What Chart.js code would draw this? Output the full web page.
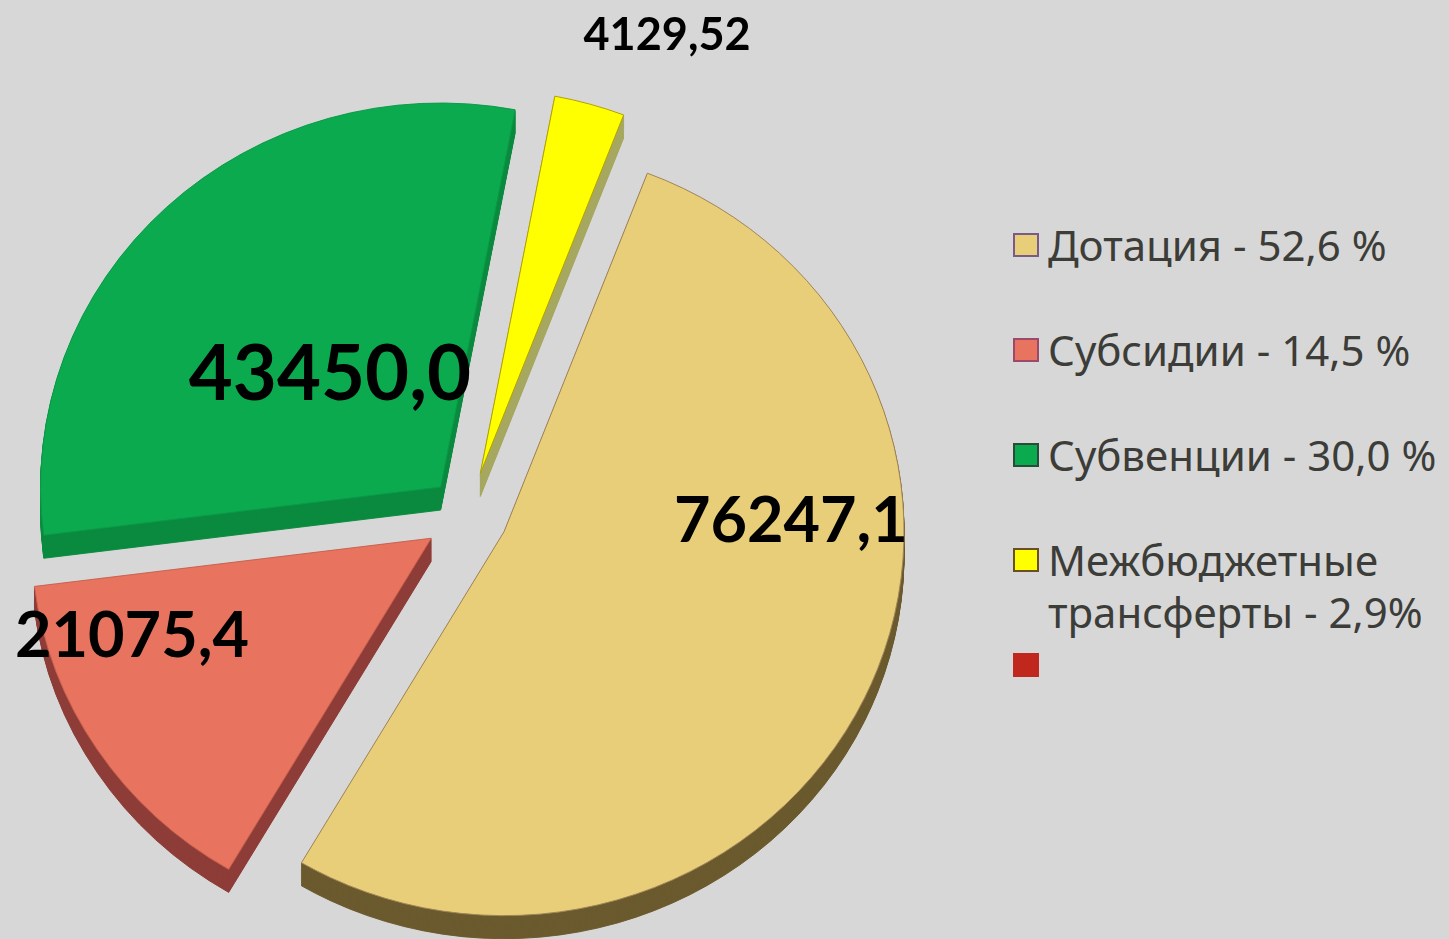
<!DOCTYPE html>
<html lang="ru">
<head>
<meta charset="utf-8">
<title>Безвозмездные поступления</title>
<script src="https://cdn.jsdelivr.net/npm/chart.js@4.4.1/dist/chart.umd.min.js"></script>
<style>
    html, body { margin: 0; padding: 0; background: #d7d7d7; width: 1449px; height: 939px; overflow: hidden; }
    #wrap { position: absolute; left: 0; top: 0; width: 936px; height: 939px; }
    #legend { position: absolute; left: 1013px; top: 219px; font-family: "Noto Sans", sans-serif; font-size: 42px; color: #3c3c38; }
    #legend .item { display: flex; align-items: flex-start; line-height: 52px; margin-bottom: 53px; white-space: pre; }
    #legend .item:nth-child(4) { margin-bottom: 1px; }
    #legend .box { width: 22px; height: 20px; margin: 14px 9px 0 0; border: 2px solid #4a3a4a; flex: none; }
</style>
</head>
<body>
<div id="wrap"><canvas id="pie"></canvas></div>
<div id="legend"></div>
<script>
var categories = ['Дотация', 'Субсидии', 'Субвенции', 'Межбюджетные трансферты', ''];
var values = [76247.1, 21075.4, 43450.0, 4129.52, 0];
var decimals = [1, 1, 1, 2, 0];
var legendTexts = ['Дотация - 52,6 %', 'Субсидии - 14,5 %', 'Субвенции - 30,0 %', 'Межбюджетные\nтрансферты - 2,9%', ''];

var topColors = ['#e8ce78', '#e8735f', '#0caa4f', '#ffff00', '#c0281e'];
var sideColors = ['#6b5a2e', '#8e3c38', '#0a8a3e', '#a6a860', '#801810'];
var boxBorders = ['#7a5a8a', '#9a4a6a', '#2a4a3a', '#6a5020', '#c0281e'];

function fmt(v, d) {
    return v.toFixed(d).replace('.', ',');
}

// legend
var legend = document.getElementById('legend');
for (var i = 0; i < legendTexts.length; i++) {
    var item = document.createElement('div');
    item.className = 'item';
    var box = document.createElement('span');
    box.className = 'box';
    box.style.background = topColors[i];
    box.style.borderColor = boxBorders[i];
    var txt = document.createElement('span');
    txt.textContent = legendTexts[i];
    item.appendChild(box);
    item.appendChild(txt);
    legend.appendChild(item);
}

// exploded slices with a dark side underneath, slightly tilted
var pie3d = {
    id: 'pie3d',
    beforeDatasetsDraw: function (chart, args, opts) {
        var ctx = chart.ctx;
        var arcs = chart.getDatasetMeta(0).data;
        if (!arcs.length) return false;
        var cy = arcs[0].y;
        function shift(arc, i) {
            var p = arc.getProps(['startAngle', 'endAngle'], true);
            var half = (p.startAngle + p.endAngle) / 2;
            return [Math.cos(half) * opts.explode[i], Math.sin(half) * opts.explode[i]];
        }
        ctx.save();
        ctx.translate(0, cy);
        ctx.scale(1, opts.tilt);
        ctx.translate(0, -cy);
        for (var i = 0; i < arcs.length; i++) {
            var arc = arcs[i];
            if (!arc.circumference) continue;
            var s = shift(arc, i);
            var orig = arc.options;
            arc.options = Object.assign({}, orig, { backgroundColor: opts.sideColors[i], borderColor: opts.sideColors[i] });
            for (var k = opts.depth; k >= 1; k--) {
                ctx.save();
                ctx.translate(s[0], s[1] + k);
                arc.draw(ctx);
                ctx.restore();
            }
            arc.options = orig;
        }
        for (var j = 0; j < arcs.length; j++) {
            if (!arcs[j].circumference) continue;
            var t = shift(arcs[j], j);
            ctx.save();
            ctx.translate(t[0], t[1]);
            arcs[j].draw(ctx);
            ctx.restore();
        }
        ctx.restore();
        return false;
    },
    afterDraw: function (chart, args, opts) {
        var ctx = chart.ctx;
        var arcs = chart.getDatasetMeta(0).data;
        ctx.save();
        ctx.fillStyle = '#000';
        ctx.textAlign = 'center';
        ctx.textBaseline = 'alphabetic';
        for (var i = 0; i < arcs.length; i++) {
            var pos = opts.labels[i];
            if (!pos) continue;
            var p = arcs[i].getProps(['x', 'y', 'startAngle', 'endAngle', 'outerRadius'], true);
            var a = p.startAngle + pos.t * (p.endAngle - p.startAngle);
            var x = p.x + Math.cos(a) * pos.r * p.outerRadius;
            var y = p.y + Math.sin(a) * pos.r * p.outerRadius;
            ctx.font = 'bold ' + pos.size + 'px Lato, "Open Sans", sans-serif';
            ctx.fillText(fmt(values[i], decimals[i]), x, y);
        }
        ctx.restore();
    }
};

new Chart(document.getElementById('pie'), {
    type: 'pie',
    data: {
        labels: categories,
        datasets: [{
            data: values,
            backgroundColor: topColors,
            borderColor: ['#a08458', '#c8604e', '#0a9a48', '#b0a000', '#c0281e'],
            borderWidth: [1, 1, 1, 1, 0]
        }]
    },
    options: {
        responsive: true,
        maintainAspectRatio: false,
        animation: false,
        rotation: 21,
        radius: 400,
        layout: { padding: { top: 91, bottom: 0 } },
        plugins: {
            legend: { display: false },
            tooltip: { enabled: false },
            pie3d: {
                explode: [40, 44, 40, 45, 0],
                depth: 24,
                tilt: 0.96,
                sideColors: sideColors,
                labels: [
                    { t: 0.3895, r: 0.81, size: 63 },
                    { t: 0.70, r: 0.912, size: 63 },
                    { t: 0.435, r: 0.449, size: 76 },
                    { t: 1.213, r: 1.264, size: 45 },
                    null
                ]
            }
        }
    },
    plugins: [pie3d]
});
</script>
</body>
</html>
